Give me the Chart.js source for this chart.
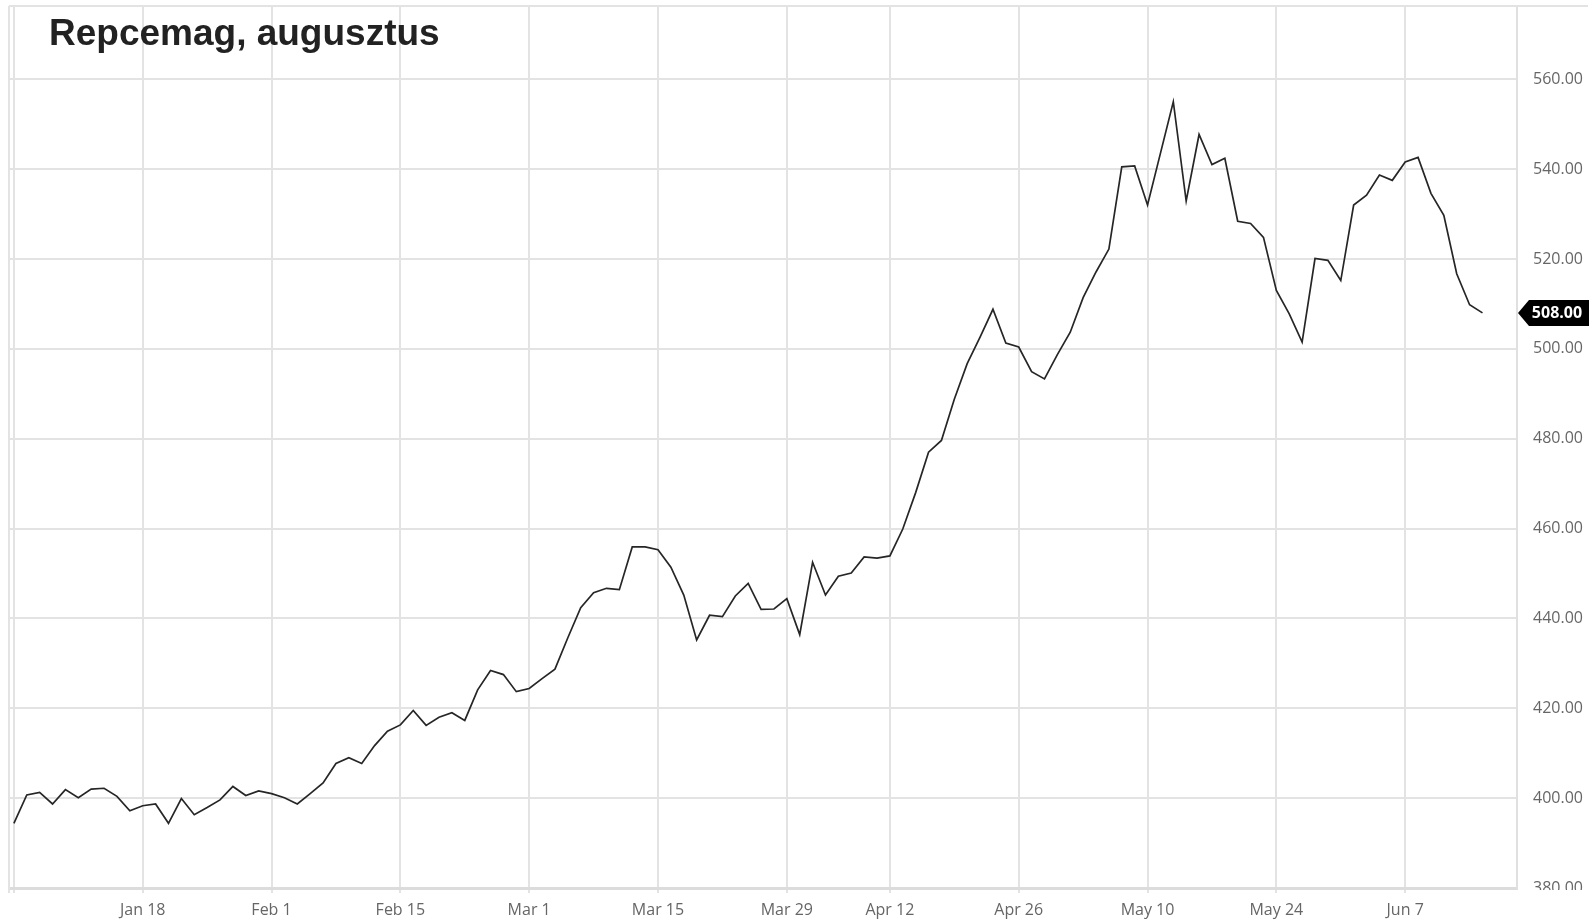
<!DOCTYPE html>
<html><head><meta charset="utf-8">
<script src="https://cdn.jsdelivr.net/npm/chart.js@4.4.1/dist/chart.umd.min.js"></script>
<style>
html,body{margin:0;padding:0;background:#fff;}
#wrap{position:relative;width:1594px;height:921px;overflow:hidden;}
canvas{position:absolute;left:0;top:0;}
#title{position:absolute;left:49px;top:14px;font:bold 37px/37px "Liberation Sans",Arial,sans-serif;color:#222;white-space:nowrap;}
</style></head><body>
<div id="wrap"><canvas id="c" width="1594" height="921"></canvas><div id="title">Repcemag, augusztus</div></div>
<script>
// Daily settlement prices (one value per trading day, Jan 4 .. Jun 15)
const prices = [
  394.4, 400.7, 401.3, 398.7, 401.9, 400.1, 402.0, 402.2, 400.4, 397.2,
  398.3, 398.7, 394.4, 399.9, 396.3, 397.9, 399.6, 402.6, 400.6, 401.6,
  401.0, 400.1, 398.7, 401.0, 403.4, 407.7, 409.0, 407.7, 411.7, 414.9,
  416.3, 419.5, 416.2, 418.0, 419.0, 417.3, 424.1, 428.4, 427.5, 423.7,
  424.4, 426.6, 428.7, 435.7, 442.4, 445.7, 446.7, 446.4, 455.9, 455.9,
  455.3, 451.4, 445.2, 435.2, 440.7, 440.4, 445.0, 447.8, 442.0, 442.1,
  444.4, 436.4, 452.5, 445.2, 449.4, 450.1, 453.7, 453.4,
  453.9, 459.9, 468.0, 477.0, 479.6, 488.8, 496.7, 502.6, 508.8, 501.3,
  500.4, 494.9, 493.3, 498.7, 503.7, 511.4, 517.1, 522.2, 540.5, 540.7,
  532.0, 543.5, 555.0, 532.9, 547.7, 541.0, 542.4, 528.4, 527.9, 524.8,
  513.0, 507.8, 501.5, 520.1, 519.7, 515.2, 532.0, 534.2, 538.7, 537.5,
  541.6, 542.6, 534.6, 529.7, 516.7, 509.8, 508.0
];
// trading-day index of each date tick, and its label
const xTickIndex  = [0, 10, 20, 30, 40, 50, 60, 68, 78, 88, 98, 108];
const xTickLabels = ['', 'Jan 18', 'Feb 1', 'Feb 15', 'Mar 1', 'Mar 15', 'Mar 29', 'Apr 12', 'Apr 26', 'May 10', 'May 24', 'Jun 7'];
const yTickValues = [380, 400, 420, 440, 460, 480, 500, 520, 540, 560];
const yRange = [380, 576.3];
const xRange = [-0.38, 116.68];

const points = prices.map((v, i) => ({x: i, y: v}));
const labelFor = new Map(xTickIndex.map((v, i) => [v, xTickLabels[i]]));

const framePlugin = {
  id: 'frame',
  beforeDatasetsDraw(chart) {
    const {ctx, chartArea: a} = chart;
    ctx.save();
    ctx.strokeStyle = '#e3e3e3';
    ctx.lineWidth = 2;
    ctx.beginPath(); ctx.moveTo(a.left, a.top); ctx.lineTo(1588, a.top); ctx.stroke();
    ctx.beginPath(); ctx.moveTo(a.left, a.top); ctx.lineTo(a.left, a.bottom + 5); ctx.stroke();
    ctx.restore();
  },
  afterDraw(chart) {
    const {ctx, chartArea: a} = chart;
    // the price panel cuts the axis labels off at the bottom edge of the plot
    ctx.save();
    ctx.fillStyle = '#fff';
    ctx.fillRect(a.right + 2, a.bottom + 2, chart.width - a.right, chart.height - a.bottom);
    const last = prices[prices.length - 1];
    const y = chart.scales.y.getPixelForValue(last);
    const x0 = a.right;
    const h = 13;
    ctx.fillStyle = '#000';
    ctx.beginPath();
    ctx.moveTo(x0 + 1, y);
    ctx.lineTo(x0 + 12, y - h);
    ctx.lineTo(1589, y - h);
    ctx.lineTo(1589, y + h);
    ctx.lineTo(x0 + 12, y + h);
    ctx.closePath();
    ctx.fill();
    ctx.fillStyle = '#fff';
    ctx.font = 'bold 16px "Open Sans", sans-serif';
    ctx.textAlign = 'center';
    ctx.textBaseline = 'middle';
    ctx.fillText(last.toFixed(2), 1557, y + 1);
    ctx.restore();
  }
};

new Chart(document.getElementById('c'), {
  type: 'line',
  data: {
    datasets: [{
      data: points,
      borderColor: '#262626',
      borderWidth: 1.7,
      pointRadius: 0,
      tension: 0,
      fill: false
    }]
  },
  options: {
    responsive: false,
    animation: false,
    devicePixelRatio: 1,
    layout: {padding: {left: 9, top: 6, right: 0, bottom: 0}},
    plugins: {legend: {display: false}, tooltip: {enabled: false}, title: {display: false}},
    scales: {
      x: {
        type: 'linear',
        min: xRange[0], max: xRange[1],
        afterBuildTicks: s => { s.ticks = xTickIndex.map(v => ({value: v})); },
        afterFit: s => { s.height = 33; s.paddingLeft = 0; s.paddingRight = 0; },
        grid: {color: '#e3e3e3', lineWidth: 2, drawTicks: true, tickLength: 5},
        border: {display: true, color: '#dcdcdc', width: 3},
        ticks: {
          autoSkip: false, maxRotation: 0,
          padding: 8,
          color: '#666',
          font: {family: '"Open Sans", sans-serif', size: 16},
          callback: v => labelFor.get(v) ?? ''
        }
      },
      y: {
        type: 'linear',
        position: 'right',
        min: yRange[0], max: yRange[1],
        afterBuildTicks: s => { s.ticks = yTickValues.map(v => ({value: v})); },
        afterFit: s => { s.width = 77; s.paddingTop = 0; s.paddingBottom = 0; },
        grid: {color: '#e3e3e3', lineWidth: 2, drawTicks: false},
        border: {display: true, color: '#e0e0e0', width: 2},
        ticks: {
          padding: 16,
          color: '#666',
          font: {family: '"Open Sans", sans-serif', size: 16},
          callback: v => Number(v).toFixed(2)
        }
      }
    }
  },
  plugins: [framePlugin]
});
</script>
</body></html>
